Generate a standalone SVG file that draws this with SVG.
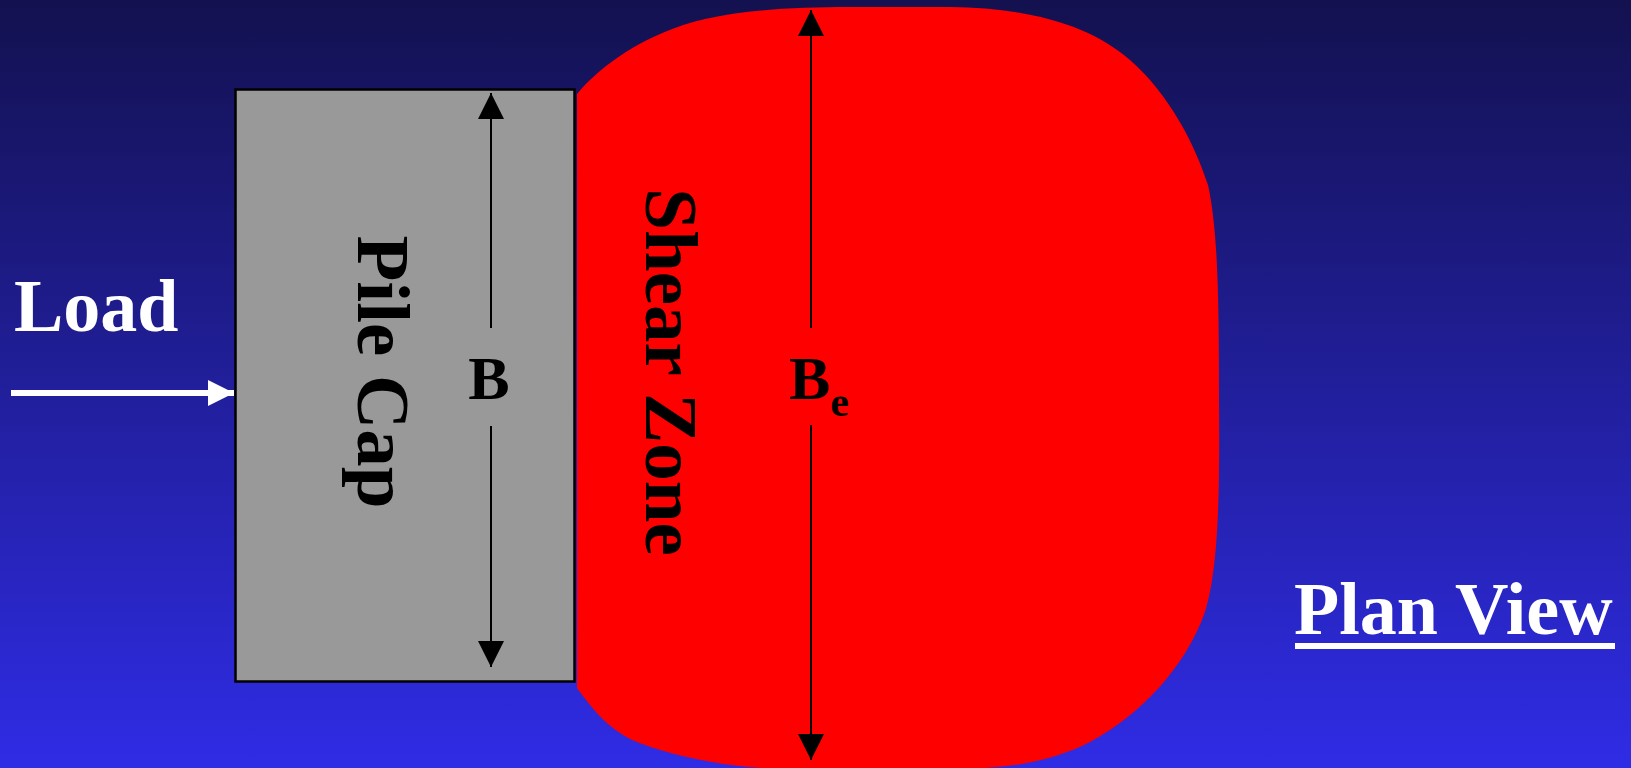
<svg xmlns="http://www.w3.org/2000/svg" width="1631" height="768" viewBox="0 0 1631 768">
  <defs>
    <linearGradient id="bg" x1="0" y1="0" x2="0" y2="1">
      <stop offset="0" stop-color="#13114f"/>
      <stop offset="1" stop-color="#2f2ce6"/>
    </linearGradient>
    <marker id="ahBlack" markerUnits="userSpaceOnUse" markerWidth="26" markerHeight="26" refX="26" refY="13" orient="auto">
      <path d="M0,0 L26,13 L0,26 Z" fill="#000"/>
    </marker>
    <marker id="ahWhite" markerUnits="userSpaceOnUse" markerWidth="27" markerHeight="26" refX="26" refY="13" orient="auto">
      <path d="M0,0 L26,13 L0,26 Z" fill="#fff"/>
    </marker>
  </defs>
  <style>
    .t { font-family: "Liberation Serif", "Times New Roman", serif; font-weight: bold; }
    .white { fill: #ffffff; }
    .black { fill: #000000; }
    .dim { stroke: #000; stroke-width: 2; fill: none; }
  </style>

  <rect x="0" y="0" width="1631" height="768" fill="url(#bg)"/>

  <g id="shear-zone">
    <path d="M 577 94 C 600 66, 645 33, 705 19 C 745 10, 795 7, 850 7 L 950 7 C 1030 8, 1090 25, 1130 60 C 1170 95, 1195 145, 1208 185 C 1218 230, 1219 300, 1219 400 C 1220 500, 1218 570, 1205 612 C 1185 668, 1140 715, 1090 742 C 1050 762, 1010 769, 950 769 L 780 769 C 720 767, 665 754, 632 740 C 605 726, 592 708, 577 688 Z" fill="#ff0000"/>
    <text class="t black" font-size="75" text-anchor="middle" transform="translate(646,372) rotate(90)">Shear Zone</text>
  </g>

  <g id="pile-cap">
    <rect x="235.5" y="89.5" width="339" height="592" fill="#999999" stroke="#000" stroke-width="2.5"/>
    <text class="t black" font-size="75" text-anchor="middle" transform="translate(358,372) rotate(90)">Pile Cap</text>
  </g>

  <g id="load-label">
    <text class="t white" x="14" y="331" font-size="74">Load</text>
  </g>

  <g id="plan-view-label">
    <text class="t white" x="1294" y="634" font-size="74">Plan View</text>
    <rect x="1295" y="643" width="320" height="6" fill="#ffffff"/>
  </g>

  <g id="b-label">
    <text class="t black" x="489" y="399" font-size="62" text-anchor="middle">B</text>
  </g>

  <g id="be-label">
    <text class="t black" x="789" y="399" font-size="62">B<tspan font-size="42" dy="17">e</tspan></text>
  </g>

  <g id="connectors">
    <line x1="11" y1="393" x2="234" y2="393" stroke="#fff" stroke-width="6" marker-end="url(#ahWhite)"/>
    <line class="dim" x1="491" y1="328" x2="491" y2="93" marker-end="url(#ahBlack)"/>
    <line class="dim" x1="491" y1="426" x2="491" y2="667" marker-end="url(#ahBlack)"/>
    <line class="dim" x1="811" y1="328" x2="811" y2="10" marker-end="url(#ahBlack)"/>
    <line class="dim" x1="811" y1="425" x2="811" y2="760" marker-end="url(#ahBlack)"/>
  </g>
</svg>
